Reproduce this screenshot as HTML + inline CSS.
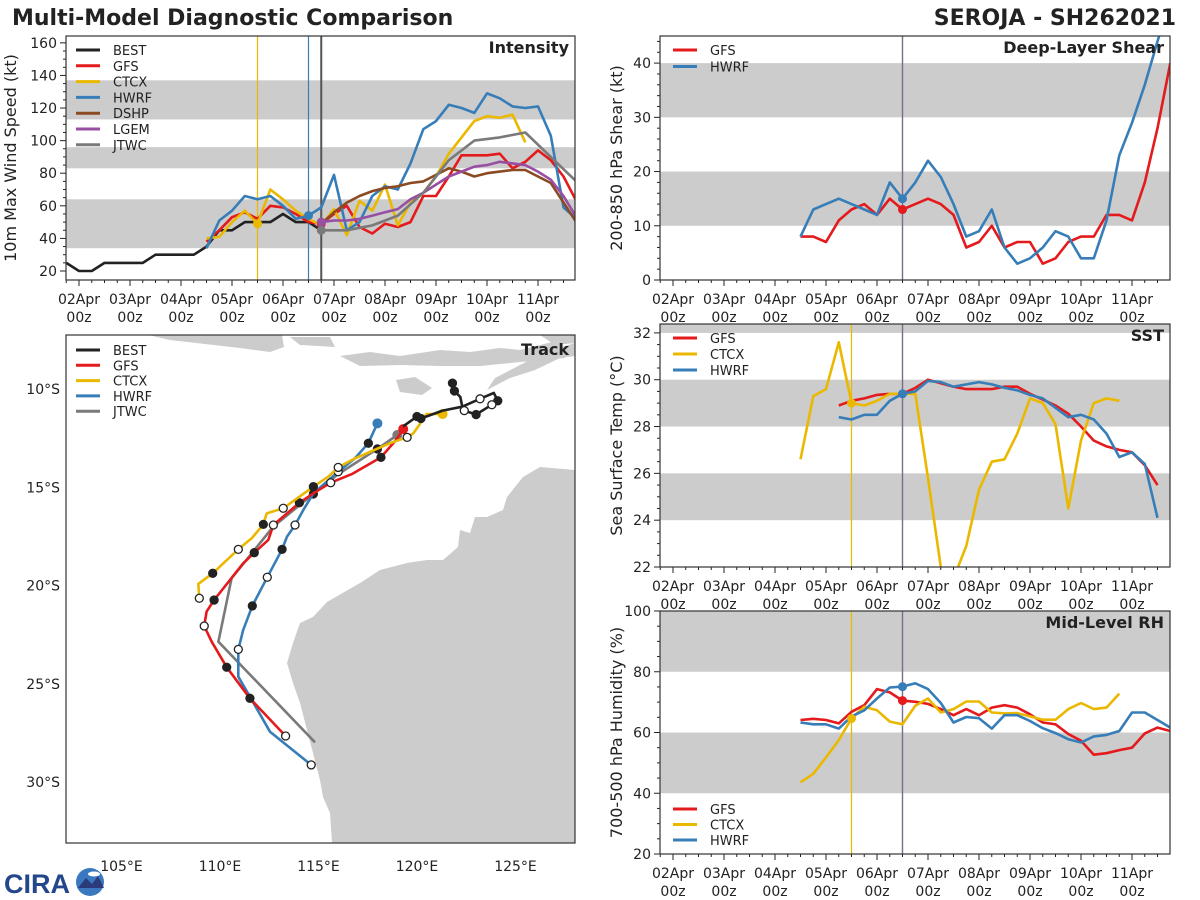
<!DOCTYPE html>
<html><head><meta charset="utf-8">
<style>
html,body{margin:0;padding:0;background:#fff;}
svg{display:block;font-family:"DejaVu Sans","Liberation Sans",sans-serif;}
</style></head>
<body>
<svg id="root" width="1200" height="900" viewBox="0 0 1200 900" xmlns="http://www.w3.org/2000/svg">
<text x="12" y="25" font-size="22" font-weight="bold" fill="#222">Multi-Model Diagnostic Comparison</text>
<text x="1176" y="25" font-size="22" font-weight="bold" fill="#222" text-anchor="end">SEROJA - SH262021</text>
<g>
<text x="4" y="893" font-size="27" font-weight="bold" fill="#24468a" font-family="Liberation Sans,sans-serif">CIRA</text>
<circle cx="90" cy="882" r="14" fill="#3a78c0"/>
<path d="M78 888 L86 878 L92 884 L98 876 L104 888 Z" fill="#2a3a7a"/>
<ellipse cx="94" cy="874" rx="6" ry="2.5" fill="#fff"/>
</g>
</svg>
<script>
// ---------- DATA ----------
const dayLabels = ["02Apr","03Apr","04Apr","05Apr","06Apr","07Apr","08Apr","09Apr","10Apr","11Apr"];
// Intensity (kt), 6-hourly, start time in days from 02Apr 00z
const bestStart = -0.25;
const bestVmax = [25,20,20,25,25,25,25,30,30,30,30,35,45,45,50,50,50,55,50,50,45];
const gfsStart = 2.5;
const gfsVmax = [38,45,53,56,52,60,59,55,50,49,55,60,47,43,49,47,50,66,66,78,91,91,91,92,83,87,94,88,78,63];
const ctcxStart = 2.5;
const ctcxVmax = [40,41,50,57,49,70,64,57,52,48,58,42,63,57,73,48,62,68,78,92,102,112,115,114,116,99];
const hwrfStart = 2.5;
const hwrfVmax = [34,51,57,66,64,66,60,52,54,59,79,45,50,66,72,70,86,107,112,122,120,117,129,126,121,120,121,103,59,52];
const dshpStart = 4.75;
const dshpVmax = [49,56,62,66,69,71,72,74,75,79,83,81,78,80,81,82,82,78,74,62,50];
const lgemStart = 4.75;
const lgemVmax = [50,51,51,52,54,56,58,64,68,73,78,81,84,85,87,86,85,81,76,66,53];
const jtwcTimes = [4.75,5.25,5.75,6.25,6.75,7.25,7.75,8.25,8.75,9.25,9.75];
const jtwcVmax = [45,45,48,54,68,88,100,102,105,90,75];
// Shear (kt)
const gfsShear = [8,8,7,11,13,14,12,15,13,14,15,14,12,6,7,10,6,7,7,3,4,7,8,8,12,12,11,18,28,40];
const hwrfShear = [8,13,14,15,14,13,12,18,15,18,22,19,14,8,9,13,6,3,4,6,9,8,4,4,11,23,29,36,44,52];
// SST (C)
const gfsSstStart = 3.25;
const gfsSst = [28.9,29.1,29.2,29.35,29.4,29.4,29.65,30.0,29.85,29.7,29.6,29.6,29.6,29.7,29.7,29.4,29.15,28.9,28.55,28.0,27.4,27.15,27.0,26.9,26.35,25.5];
const ctcxSst = [26.6,29.3,29.6,31.6,29.0,28.9,29.1,29.4,29.4,29.4,25.8,22.0,21.5,22.9,25.3,26.5,26.6,27.7,29.2,29.0,28.1,24.5,27.4,29.0,29.2,29.1];
const hwrfSstStart = 3.25;
const hwrfSst = [28.4,28.3,28.5,28.5,29.1,29.4,29.5,29.95,29.9,29.7,29.8,29.9,29.8,29.65,29.55,29.35,29.2,28.8,28.4,28.5,28.3,27.7,26.7,26.9,26.4,24.1];
// RH (%)
const gfsRh = [64.1,64.5,64.1,63.0,66.8,69,74.3,73.2,70.5,70.1,69.4,67.7,65.7,67.7,65.7,68.2,69,68.2,66,63.3,62.7,59.5,57.3,52.7,53.2,54.2,55,59.7,61.6,60.5];
const ctcxRh = [43.6,46.4,51.8,57.5,64.6,68.5,67.3,63.6,62.7,68.8,71.2,66.6,67.7,70.2,70.2,66.6,66.3,66.4,65.3,64.2,64.2,67.7,69.7,67.7,68.2,72.8];
const hwrfRh = [63.3,62.7,62.7,61.3,65.3,67.3,71.2,74.8,75.1,76.2,74.3,69.7,63.3,65.1,64.7,61.3,65.7,65.7,63.8,61.4,59.8,57.8,56.7,58.7,59.2,60.5,66.6,66.6,64.1,61.6];
// Tracks (lon E, lat S)
const bestLon = [121.8,121.9,122.2,122.3,123.2,123.9,124.1,123.8,123.0,122.4,122.3,121.3,120.2,120.0,119.3];
const bestLat = [9.7,10.1,10.4,10.9,10.5,10.2,10.6,10.8,11.3,11.1,10.9,11.1,11.5,11.4,11.9];
const bestMk = ["f","f","","","o","","f","o","f","o","","","f","f",""];
const gfsLon = [119.3,118.93,118.17,116.69,115.62,114.74,114.03,112.71,112.45,111.74,111.18,109.7,109.32,109.2,109.58,110.34,111.52,113.33];
const gfsLat = [12.04,12.6,13.48,14.33,14.77,15.31,15.79,16.92,17.68,18.33,18.87,20.74,21.33,22.06,22.86,24.16,25.74,27.66];
const gfsMk = ["s","","f","","o","","f","o","","f","","f","","o","","f","f","o"];
const hwrfLon = [117.99,117.53,116.85,116.0,114.74,114.23,113.81,113.4,113.15,112.4,111.64,111.18,110.93,110.93,111.52,112.54,114.63];
const hwrfLat = [11.75,12.76,13.53,14.21,15.31,16.16,16.92,17.51,18.16,19.58,21.04,22.26,23.25,24.64,25.66,27.44,29.13];
const hwrfMk = ["s","f","","o","","","o","","f","o","f","","o","","","","o"];
const ctcxLon = [121.3,120.49,120.11,119.81,119.5,118.63,116.85,116.0,115.5,114.74,113.21,112.37,112.2,111.61,110.93,109.63,108.9,108.95];
const ctcxLat = [11.27,11.27,11.83,12.26,12.46,12.76,13.53,13.99,14.46,14.97,16.07,16.33,16.89,17.6,18.16,19.38,19.92,20.65];
const ctcxMk = ["s","","","","o","","","o","","f","o","","f","","o","f","","o"];
const jtwcLon = [119.0,117.99,116.0,114.74,112.71,110.59,109.92,114.82];
const jtwcLat = [12.34,13.05,14.33,15.34,17.0,19.63,22.86,27.98];
const jtwcMk = ["s","f","","f","","","",""];

// ---------- HELPERS ----------
const NS = "http://www.w3.org/2000/svg";
const root = document.getElementById("root");
const C = {BEST:"#222222",GFS:"#e41a1c",CTCX:"#ebb800",HWRF:"#377eb8",DSHP:"#8c4a22",LGEM:"#984ea3",JTWC:"#7a7a7a"};
function el(tag, attrs, parent){
  const e = document.createElementNS(NS, tag);
  for (const k in attrs) e.setAttribute(k, attrs[k]);
  (parent||root).appendChild(e);
  return e;
}
function txt(x,y,s,size,anchor,parent,weight){
  const t = el("text",{x:x,y:y,"font-size":size,"text-anchor":anchor||"start",fill:"#222","font-weight":weight||"normal"},parent);
  t.textContent = s;
  return t;
}
let clipN = 0;
function panel(p){
  const g = el("g",{});
  
  
  const id = "clip"+(clipN++);
  const cp = el("clipPath",{id:id},g);
  el("rect",{x:p.l,y:p.t,width:p.r-p.l,height:p.b-p.t},cp);
  p.clip = "url(#"+id+")";
  p.g = g;
  p.y = v => p.b - (v - p.ymin)/(p.ymax - p.ymin)*(p.b - p.t);
  p.x = t => p.l + 13 + t*51;
  p.bands.forEach(b=>{
    const y1 = Math.max(p.t, p.y(b[1])), y2 = Math.min(p.b, p.y(b[0]));
    const r = el("rect",{x:p.l,y:y1,width:p.r-p.l,height:y2-y1,fill:"#cccccc"},g);
    
    
  });
  return p;
}
function axes(p){
  const g = p.g;
  for (let v = p.ymin0; v <= p.ymax+1e-6; v += p.minor){
    const y = p.y(v);
    if (y < p.t-0.5 || y > p.b+0.5) continue;
    const major = Math.abs((v - p.ymin0) / p.major - Math.round((v - p.ymin0)/p.major)) < 1e-6;
    el("line",{x1:p.l,x2:p.l-(major?6:3),y1:y,y2:y,stroke:"#222","stroke-width":1},g);
    if (major){
      const t = txt(p.l-9,y+5,String(Math.round(v)),14,"end",g);
      
      
    }
  }
  for (let q = -1; q <= 40; q++){
    const t = q*0.25, x = p.x(t);
    if (x < p.l || x > p.r) continue;
    const major = q % 4 === 0;
    el("line",{x1:x,x2:x,y1:p.b,y2:p.b+(major?6:3),stroke:"#222","stroke-width":1},g);
    if (major){
      const a = txt(x,p.b+24,dayLabels[q/4],14,"middle",g);
      
      
      const b = txt(x,p.b+42,"00z",14,"middle",g);
      
      
    }
  }
  const yt = txt(0,0,p.ytitle,16,"middle",g);
  yt.setAttribute("transform","translate("+p.tx+","+((p.t+p.b)/2)+") rotate(-90)");
  
  
  const tt = txt(p.r-6,p.t+17,p.title,16,"end",g,"bold");
  
  
  const fr = el("rect",{x:p.l,y:p.t,width:p.r-p.l,height:p.b-p.t,fill:"none",stroke:"#333","stroke-width":1.2},g);
  
  
}
function vline(p,t,color,w){
  const l = el("line",{x1:p.x(t),x2:p.x(t),y1:p.t,y2:p.b,stroke:color,"stroke-width":w||1.2},p.g);
  
  
}
function series(p,start,vals,color,name,times){
  const pts = vals.map((v,i)=>[p.x(times?times[i]:start+i*0.25),p.y(v)]);
  const pl = el("polyline",{points:pts.map(a=>a[0].toFixed(1)+","+a[1].toFixed(1)).join(" "),fill:"none",stroke:color,"stroke-width":2.6,"stroke-linejoin":"round","clip-path":p.clip},p.g);
  
  
}
function dot(p,t,v,color){
  const c = el("circle",{cx:p.x(t),cy:p.y(v),r:4.5,fill:color,"clip-path":p.clip},p.g);
  
  
}
function legend(g,x,y,items,dy){
  items.forEach((it,i)=>{
    const gi = el("g",{},g);
    
    
    el("line",{x1:x,x2:x+24,y1:y+i*dy,y2:y+i*dy,stroke:C[it],"stroke-width":3},gi);
    txt(x+37,y+i*dy+5,it,13,"start",gi);
  });
}

// ---------- INTENSITY ----------
const P1 = panel({name:"intensity-panel",l:66,t:36,r:575,b:280,ymin:14.48,ymax:164.2,ymin0:20,major:20,minor:5,
  bands:[[34,64],[83,96],[113,137]],title:"Intensity",ytitle:"10m Max Wind Speed (kt)",tx:16});
vline(P1,3.5,"#ebb800",1.2); vline(P1,4.5,"#377eb8",1.2); vline(P1,4.75,"#555555",2);
series(P1,bestStart,bestVmax,C.BEST,"best-line");
series(P1,gfsStart,gfsVmax,C.GFS,"gfs-line");
series(P1,ctcxStart,ctcxVmax,C.CTCX,"ctcx-line");
series(P1,hwrfStart,hwrfVmax,C.HWRF,"hwrf-line");
series(P1,dshpStart,dshpVmax,C.DSHP,"dshp-line");
series(P1,lgemStart,lgemVmax,C.LGEM,"lgem-line");
series(P1,0,jtwcVmax,C.JTWC,"jtwc-line",jtwcTimes);
dot(P1,3.5,ctcxVmax[4],C.CTCX); dot(P1,4.5,hwrfVmax[8],C.HWRF); dot(P1,4.75,gfsVmax[9],C.GFS);
dot(P1,4.75,lgemVmax[0],C.LGEM); dot(P1,4.75,jtwcVmax[0],C.JTWC);
axes(P1);
legend(P1.g,76,50,["BEST","GFS","CTCX","HWRF","DSHP","LGEM","JTWC"],15.8);

// ---------- SHEAR ----------
const P2 = panel({name:"shear-panel",l:660,t:36,r:1170,b:280,ymin:0,ymax:45,ymin0:0,major:10,minor:2,
  bands:[[10,20],[30,40]],title:"Deep-Layer Shear",ytitle:"200-850 hPa Shear (kt)",tx:622});
vline(P2,4.5,"#7e6a8c",1.4);
series(P2,2.5,gfsShear,C.GFS,"gfs-shear-line");
series(P2,2.5,hwrfShear,C.HWRF,"hwrf-shear-line");
dot(P2,4.5,gfsShear[8],C.GFS); dot(P2,4.5,hwrfShear[8],C.HWRF);
axes(P2);
legend(P2.g,673,50,["GFS","HWRF"],16.5);

// ---------- SST ----------
const P3 = panel({name:"sst-panel",l:660,t:324,r:1170,b:567,ymin:22,ymax:32.38,ymin0:22,major:2,minor:0.5,
  bands:[[24,26],[28,30],[32,34]],title:"SST",ytitle:"Sea Surface Temp (°C)",tx:622});
vline(P3,3.5,"#ebb800",1.2); vline(P3,4.5,"#7e6a8c",1.4);
series(P3,gfsSstStart,gfsSst,C.GFS,"gfs-sst-line");
series(P3,2.5,ctcxSst,C.CTCX,"ctcx-sst-line");
series(P3,hwrfSstStart,hwrfSst,C.HWRF,"hwrf-sst-line");
dot(P3,3.5,ctcxSst[4],C.CTCX); dot(P3,4.5,hwrfSst[5],C.HWRF);
axes(P3);
legend(P3.g,673,338,["GFS","CTCX","HWRF"],16);

// ---------- RH ----------
const P4 = panel({name:"rh-panel",l:660,t:611,r:1170,b:854,ymin:20,ymax:100,ymin0:20,major:20,minor:5,
  bands:[[40,60],[80,100]],title:"Mid-Level RH",ytitle:"700-500 hPa Humidity (%)",tx:622});
vline(P4,3.5,"#ebb800",1.2); vline(P4,4.5,"#7e6a8c",1.4);
series(P4,2.5,gfsRh,C.GFS,"gfs-rh-line");
series(P4,2.5,ctcxRh,C.CTCX,"ctcx-rh-line");
series(P4,2.5,hwrfRh,C.HWRF,"hwrf-rh-line");
dot(P4,3.5,ctcxRh[4],C.CTCX); dot(P4,4.5,gfsRh[8],C.GFS); dot(P4,4.5,hwrfRh[8],C.HWRF);
axes(P4);
legend(P4.g,673,809,["GFS","CTCX","HWRF"],15.5);

// ---------- TRACK MAP ----------
const M = {l:66,t:335,r:575,b:843};
const mg = el("g",{});


const mcp = el("clipPath",{id:"mapclip"},mg);
el("rect",{x:M.l,y:M.t,width:M.r-M.l,height:M.b-M.t},mcp);
const lonX = lon => 220 + (lon-110)*19.7;
const latY = lat => 389 + (lat-10)*19.65;
const land = el("g",{fill:"#cccccc","clip-path":"url(#mapclip)"},mg);


["575,470 540,467 523,477 507,497 503,510 487,517 475,517 470,533 460,530 458,547 443,560 427,560 407,563 380,570 360,583 327,602 313,617 300,623 293,643 287,663 293,683 300,703 307,730 313,753 320,780 323,797 330,813 332,843 575,843",
 "148,335 282,335 284,347 270,352 240,348 205,344 170,340",
 "290,337 330,337 335,347 300,345",
 "340,356 370,352 400,356 440,350 470,352 500,348 520,350 540,345 560,340 565,358 520,362 480,366 440,366 400,365 360,366",
 "396,380 415,377 432,388 422,395 400,392",
 "487,390 510,378 535,370 560,358 575,356 575,343 545,352 520,365 495,378",
 "540,335 575,335 575,343 555,345"].forEach(s=>el("polygon",{points:s},land));
function track(lons,lats,mk,color,name,w){
  const g = el("g",{"clip-path":"url(#mapclip)"},mg);
  
  
  el("polyline",{points:lons.map((lo,i)=>lonX(lo).toFixed(1)+","+latY(lats[i]).toFixed(1)).join(" "),fill:"none",stroke:color,"stroke-width":w||2.6,"stroke-linejoin":"round"},g);
  mk.forEach((m,i)=>{
    if (!m) return;
    const c = el("circle",{cx:lonX(lons[i]),cy:latY(lats[i]),r:m==="s"?5:4,fill:m==="o"?"#fff":(m==="s"?color:"#222"),stroke:m==="s"?"none":"#222","stroke-width":1.3},g);
    
    
  });
}
track(jtwcLon,jtwcLat,jtwcMk,C.JTWC,"jtwc-track");
track(hwrfLon,hwrfLat,hwrfMk,C.HWRF,"hwrf-track");
track(gfsLon,gfsLat,gfsMk,C.GFS,"gfs-track");
track(ctcxLon,ctcxLat,ctcxMk,C.CTCX,"ctcx-track");
track(bestLon,bestLat,bestMk,C.BEST,"best-track");
[105,110,115,120,125].forEach(lo=>{
  const t = txt(lonX(lo),871,lo+"°E",14,"middle",mg);
  
  
});
[10,15,20,25,30].forEach(la=>{
  const t = txt(60,latY(la)+5,la+"°S",14,"end",mg);
  
  
});
const tt = txt(569,355,"Track",16,"end",mg,"bold");


legend(mg,76,350,["BEST","GFS","CTCX","HWRF","JTWC"],15.3);
const mf = el("rect",{x:M.l,y:M.t,width:M.r-M.l,height:M.b-M.t,fill:"none",stroke:"#333","stroke-width":1.2},mg);


</script>
</body></html>
